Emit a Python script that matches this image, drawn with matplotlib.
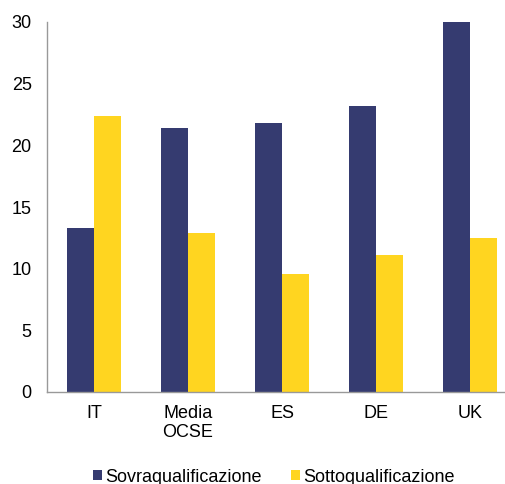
import matplotlib
matplotlib.use("Agg")
import matplotlib.pyplot as plt
import numpy as np

categories = ["IT", "Media\nOCSE", "ES", "DE", "UK"]
sovra = [13.3, 21.4, 21.8, 23.2, 30.0]
sotto = [22.4, 12.9, 9.6, 11.1, 12.5]
series_names = ["Sovraqualificazione", "Sottoqualificazione"]
yticks = [0, 5, 10, 15, 20, 25, 30]

plt.rcParams['font.family'] = ['Liberation Sans', 'DejaVu Sans']

fig = plt.figure(figsize=(5.05, 4.84), dpi=100)
ax = fig.add_axes([47/505, 92/484, 470/505, 370/484])

x = np.arange(len(categories))
w = 0.285
navy = "#353B70"
yellow = "#FFD520"
ax.bar(x - w/2, sovra, w, color=navy, label=series_names[0])
ax.bar(x + w/2, sotto, w, color=yellow, label=series_names[1])

ax.set_xlim(-0.5, len(categories) - 0.5)
ax.set_ylim(0, 30)
ax.set_yticks(yticks)
ax.set_xticks(x)
ax.set_xticklabels(categories, fontsize=13, linespacing=1.2)
ax.tick_params(axis='y', labelsize=13, length=0, pad=11)
ax.tick_params(axis='x', length=0, pad=9)
for s in ["top", "right"]:
    ax.spines[s].set_visible(False)
for s in ["left", "bottom"]:
    ax.spines[s].set_color("#999999")
    ax.spines[s].set_linewidth(1.0)

fig.legend(loc="center", bbox_to_anchor=(274/505, 1 - 477/484), ncol=2, frameon=False,
           fontsize=13, handlelength=0.5, handleheight=0.5, handletextpad=0.2,
           columnspacing=1.6, borderaxespad=0, borderpad=0)

fig.savefig("out.png", dpi=100)
